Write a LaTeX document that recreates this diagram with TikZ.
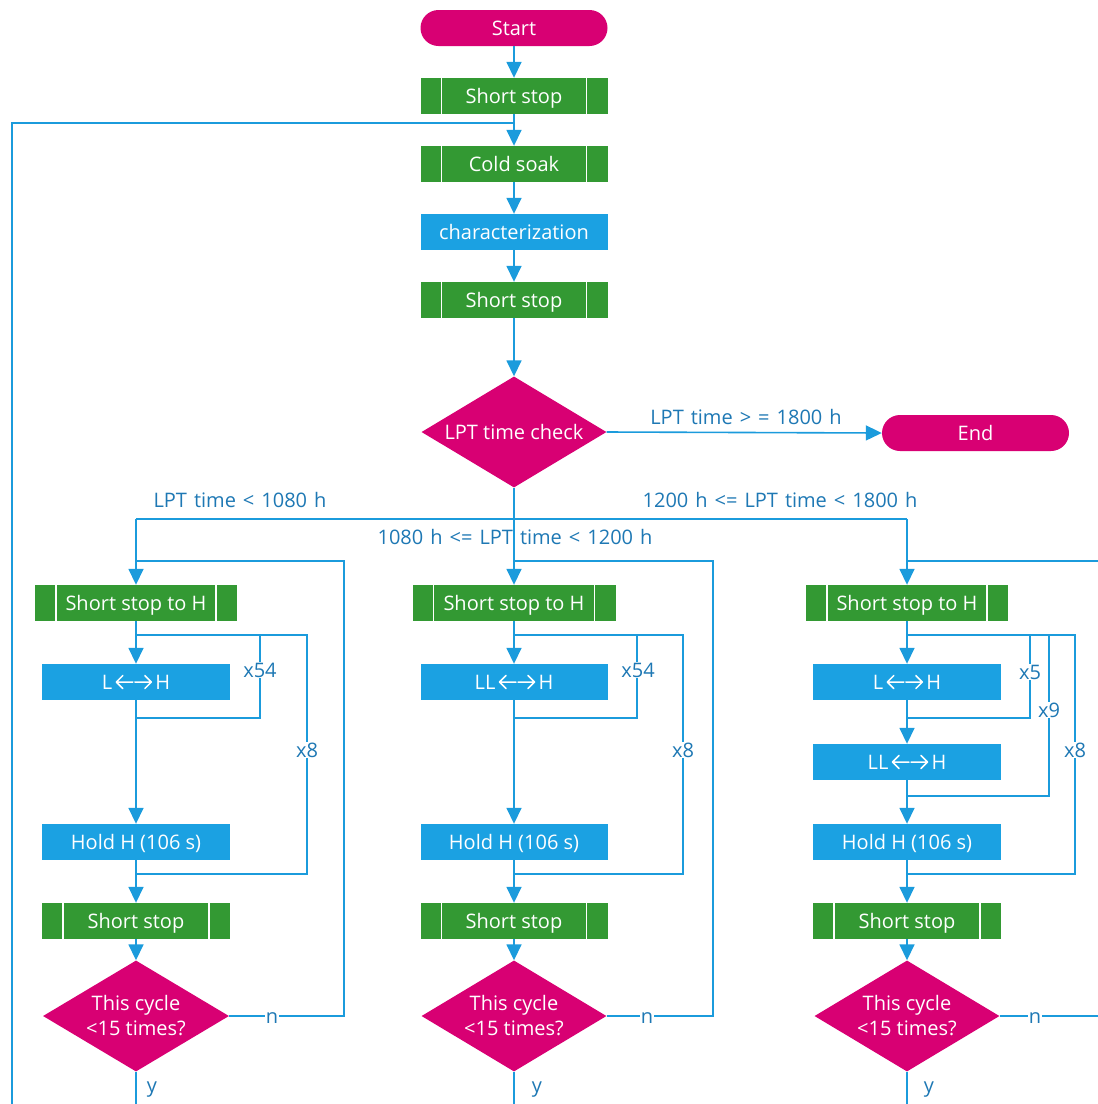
\documentclass[tikz,border=0pt]{standalone}
\usepackage{fontspec}
\setmainfont{Open Sans}
\usetikzlibrary{shapes.geometric,arrows.meta}
\definecolor{mag}{RGB}{216,0,115}
\definecolor{grn}{RGB}{51,153,51}
\definecolor{blu}{RGB}{27,161,226}
\definecolor{lin}{RGB}{27,155,220}
\definecolor{lbl}{RGB}{30,120,180}
\newcommand{\lrh}{\,\tikz[x=1pt,y=1pt,baseline=0pt]{\draw[white,line width=1.5pt,line cap=round,line join=round]
  (0.5,7)--(17,7) (7,0.5)--(0.5,7)--(7,13.5) (19,7)--(35.5,7) (29,0.5)--(35.5,7)--(29,13.5);}\,}
\newcommand{\labfont}{\fontsize{20}{24}\selectfont\spaceskip 7pt plus 1pt\relax}
\begin{document}
\begin{tikzpicture}[x=1pt,y=-1pt,
  font=\fontsize{20}{24}\selectfont,
  txt/.style={text height=14pt,text depth=0pt},
  pill/.style={rectangle,rounded corners=18pt,fill=mag,text=white,minimum width=187pt,minimum height=36pt,inner sep=0pt,txt},
  ppbox/.style={rectangle,fill=grn,text=white,minimum width=#1,minimum height=36pt,inner sep=0pt,txt,
    path picture={\draw[white,line width=1.2pt]
      ([xshift=21pt]path picture bounding box.north west) -- ([xshift=21pt]path picture bounding box.south west)
      ([xshift=-21pt]path picture bounding box.north east) -- ([xshift=-21pt]path picture bounding box.south east);}},
  ppbox/.default=187pt,
  procbox/.style={rectangle,fill=blu,text=white,minimum width=188pt,minimum height=36pt,inner sep=0pt,txt},
  decbox/.style={diamond,aspect=1.67,fill=mag,text=white,minimum width=186pt,minimum height=111pt,inner sep=0pt,align=center,font=\fontsize{20}{25}\selectfont},
  ln/.style={draw=lin,line width=1.6pt},
  arr/.style={ln,-{Triangle[length=16pt,width=15pt]}},
  lab/.style={text=lbl,inner sep=1pt,txt,font=\labfont},
  labw/.style={lab,fill=white}]
\useasboundingbox (0,0) rectangle (1098,1104);

% main column
\node[pill] (start) at (514,28) {Start};
\node[ppbox] (ssa) at (514,96) {Short stop};
\node[ppbox] (cold) at (514,164) {Cold soak};
\node[procbox,minimum width=187pt] (char) at (514,232) {characterization};
\node[ppbox] (ssb) at (514,300) {Short stop};
\node[decbox,minimum width=185pt] (lpt) at (514,432) {LPT time check};
\node[pill] (end) at (975.5,433) {End};

\draw[arr] (start) -- (ssa);
\draw[arr] (ssa) -- (cold);
\draw[arr] (cold) -- (char);
\draw[arr] (char) -- (ssb);
\draw[arr] (ssb) -- (lpt);
\draw[arr] (lpt.east) -- (end.west);
\node[lab] (lgt) at (746,417) {LPT time > = 1800 h};

% feedback
\coordinate (fbB) at (12,1104);
\coordinate (fbT) at (12,123);
\coordinate (fbJ) at (514,123);
\draw[ln] (fbB) -- (fbT) -- (fbJ);

% branches
\coordinate (br) at (514,519);
\coordinate (brL) at (136,519);
\coordinate (brR) at (907,519);
\draw[ln] (lpt.south) -- (br);
\draw[ln] (brL) -- (brR);
\node[lab] (l1) at (240,500) {LPT time < 1080 h};
\node[lab] (l3) at (780,500) {1200 h <= LPT time < 1800 h};
\node[lab] (l2) at (515,537) {1080 h <= LPT time < 1200 h};

% column 1
\node[ppbox=202pt] (ssh1) at (136,603) {Short stop to H};
\node[procbox] (lh1) at (136,682) {L\lrh H};
\node[procbox] (hold1) at (136,842) {Hold H (106 s)};
\node[ppbox=188pt] (ssc1) at (136,921) {Short stop};
\node[decbox] (dec1) at (136,1016) {This cycle\\<15 times?};
\draw[arr] (brL) -- (ssh1);
\draw[arr] (ssh1) -- (lh1);
\draw[arr] (lh1) -- (hold1);
\draw[arr] (hold1) -- (ssc1);
\draw[arr] (ssc1) -- (dec1);
\coordinate (y1) at (136,1104);
\draw[ln] (dec1.south) -- (y1);
\node[lab] at (152,1085) {y};
\coordinate (n1a) at (344,1016);
\coordinate (n1b) at (344,561);
\coordinate (n1c) at (136,561);
\draw[ln] (dec1.east) -- (n1a) -- (n1b) -- (n1c);
\node[labw] at (272,1016) {n};
\coordinate (a1) at (136,635);
\coordinate (a1r) at (307,635);
\coordinate (a1b) at (307,874);
\coordinate (a1j) at (136,874);
\draw[ln] (a1) -- (a1r) -- (a1b) -- (a1j);
\coordinate (b1r) at (260,635);
\coordinate (b1b) at (260,718);
\coordinate (b1j) at (136,718);
\draw[ln] (b1r) -- (b1b) -- (b1j);
\node[labw] at (260,670) {x54};
\node[labw] at (307,750) {x8};

% column 2
\node[ppbox=203pt] (ssh2) at (514,603) {Short stop to H};
\node[procbox,minimum width=187pt] (lh2) at (514,682) {LL\lrh H};
\node[procbox,minimum width=187pt] (hold2) at (514,842) {Hold H (106 s)};
\node[ppbox] (ssc2) at (514,921) {Short stop};
\node[decbox,minimum width=185pt] (dec2) at (514,1016) {This cycle\\<15 times?};
\draw[arr] (br) -- (ssh2);
\draw[arr] (ssh2) -- (lh2);
\draw[arr] (lh2) -- (hold2);
\draw[arr] (hold2) -- (ssc2);
\draw[arr] (ssc2) -- (dec2);
\coordinate (y2) at (514,1104);
\draw[ln] (dec2.south) -- (y2);
\node[lab] at (537,1085) {y};
\coordinate (n2a) at (713,1016);
\coordinate (n2b) at (713,561);
\coordinate (n2c) at (514,561);
\draw[ln] (dec2.east) -- (n2a) -- (n2b) -- (n2c);
\node[labw] at (647,1016) {n};
\coordinate (a2) at (514,635);
\coordinate (a2r) at (683,635);
\coordinate (a2b) at (683,874);
\coordinate (a2j) at (514,874);
\draw[ln] (a2) -- (a2r) -- (a2b) -- (a2j);
\coordinate (b2r) at (637,635);
\coordinate (b2b) at (637,718);
\coordinate (b2j) at (514,718);
\draw[ln] (b2r) -- (b2b) -- (b2j);
\node[labw] at (638,670) {x54};
\node[labw] at (683,750) {x8};

% column 3
\node[ppbox=202pt] (ssh3) at (907,603) {Short stop to H};
\node[procbox] (lh3) at (907,682) {L\lrh H};
\node[procbox] (llh3) at (907,762) {LL\lrh H};
\node[procbox] (hold3) at (907,842) {Hold H (106 s)};
\node[ppbox=188pt] (ssc3) at (907,921) {Short stop};
\node[decbox,minimum width=185pt] (dec3) at (907,1016) {This cycle\\<15 times?};
\draw[arr] (brR) -- (ssh3);
\draw[arr] (ssh3) -- (lh3);
\draw[arr] (lh3) -- (llh3);
\draw[arr] (llh3) -- (hold3);
\draw[arr] (hold3) -- (ssc3);
\draw[arr] (ssc3) -- (dec3);
\coordinate (y3) at (907,1104);
\draw[ln] (dec3.south) -- (y3);
\node[lab] at (929,1085) {y};
\coordinate (n3a) at (1100,1016);
\coordinate (n3c) at (907,561);
\coordinate (n3b) at (1100,561);
\draw[ln] (dec3.east) -- (n3a);
\draw[ln] (n3c) -- (n3b);
\node[labw] at (1035,1016) {n};
\coordinate (a3) at (907,635);
\coordinate (a3r) at (1075,635);
\coordinate (a3b) at (1075,874);
\coordinate (a3j) at (907,874);
\draw[ln] (a3) -- (a3r) -- (a3b) -- (a3j);
\coordinate (c3r) at (1049,635);
\coordinate (c3b) at (1049,796);
\coordinate (c3j) at (907,796);
\draw[ln] (c3r) -- (c3b) -- (c3j);
\coordinate (b3r) at (1030,635);
\coordinate (b3b) at (1030,718);
\coordinate (b3j) at (907,718);
\draw[ln] (b3r) -- (b3b) -- (b3j);
\node[labw] at (1030,672) {x5};
\node[labw] at (1049,710) {x9};
\node[labw] at (1075,750) {x8};
\end{tikzpicture}
\end{document}
